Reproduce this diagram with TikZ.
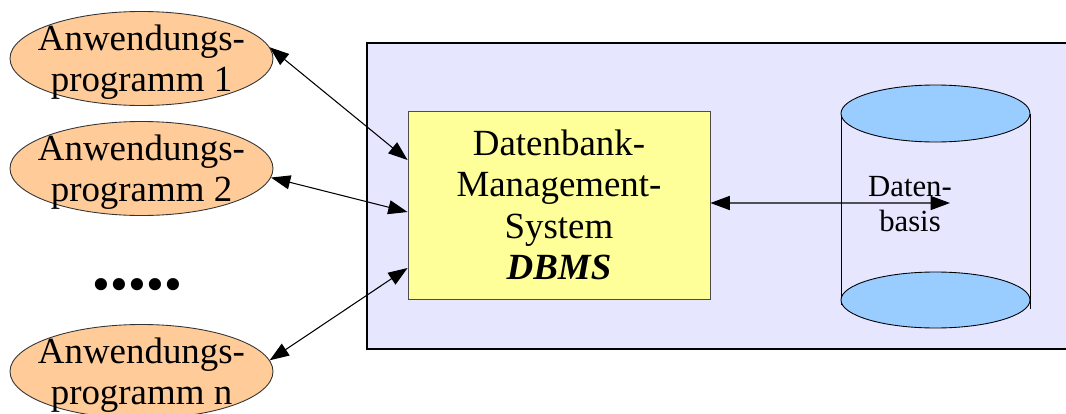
\documentclass[tikz,border=0pt]{standalone}
\usepackage{fontspec}
\setmainfont{Liberation Serif}
\usetikzlibrary{shapes.geometric,arrows.meta}

\definecolor{progfill}{HTML}{FFCC99}
\definecolor{sysfill}{HTML}{E6E6FF}
\definecolor{dbmsfill}{HTML}{FFFF99}
\definecolor{diskfill}{HTML}{99CCFF}

\tikzset{
    prog/.style={ellipse, draw=black!80, fill=progfill, line width=0.5pt,
        minimum width=5.26cm, minimum height=1.88cm, inner sep=0pt},
    bigtext/.style={align=center, inner sep=0pt, font=\fontsize{21}{23.5}\selectfont},
    link/.style={<->, >={Triangle[length=11pt,width=8pt]}, line width=0.6pt}
}

\begin{document}
\begin{tikzpicture}
            \useasboundingbox (0,0) rectangle (21.32,-8.28);
            \clip (0,0) rectangle (21.32,-8.28);

            %System
            \draw[fill=sysfill, line width=0.8pt] (7.34,-0.86) rectangle (21.6,-6.98);

            %Programs
            \node[prog] (prog1) at (2.83,-1.17) {};
            \node[bigtext] (prog1txt) at ([yshift=-0.08cm]prog1) {Anwendungs-\\programm 1};
            \node[prog] (prog2) at (2.83,-3.37) {};
            \node[bigtext] (prog2txt) at ([yshift=-0.08cm]prog2) {Anwendungs-\\programm 2};
            \node[inner sep=0pt, font=\fontsize{29}{29}\selectfont] (dots) at (2.75,-5.80) {•••••};
            \node[prog] (progn) at (2.83,-7.43) {};
            \node[bigtext] (progntxt) at ([yshift=-0.08cm]progn) {Anwendungs-\\programm n};

            %DBMS
            \node[bigtext, draw=black!70, fill=dbmsfill, line width=0.5pt,
                minimum width=6.04cm, minimum height=3.76cm] (dbms) at (11.18,-4.10)
                {Datenbank-\\Management-\\System\\\textbf{\textit{DBMS}}};

            %Database
            \draw[line width=0.5pt] (16.82,-2.27) -- (16.82,-6.1);
            \draw[line width=0.5pt] (20.6,-2.27) -- (20.6,-6.18);
            \draw[fill=diskfill, line width=0.5pt] (18.71,-2.27) ellipse (1.89cm and 0.57cm);
            \draw[fill=diskfill, line width=0.5pt] (18.71,-6.0) ellipse (1.89cm and 0.56cm);
            \node[align=center, inner sep=0pt, font=\fontsize{17.5}{20}\selectfont] (dbtxt) at (18.2,-4.08) {Daten-\\basis};
            \coordinate (dbend) at (19.0,-4.06);

            %Lines
            \draw[link] (prog1.5) -- ([yshift=0.9cm]dbms.west);
            \draw[link] (prog2.-4) -- ([yshift=-0.14cm]dbms.west);
            \draw[link] (progn.5) -- ([yshift=-1.26cm]dbms.west);
            \draw[link] ([yshift=0.04cm]dbms.east) -- (dbend);
\end{tikzpicture}
\end{document}
